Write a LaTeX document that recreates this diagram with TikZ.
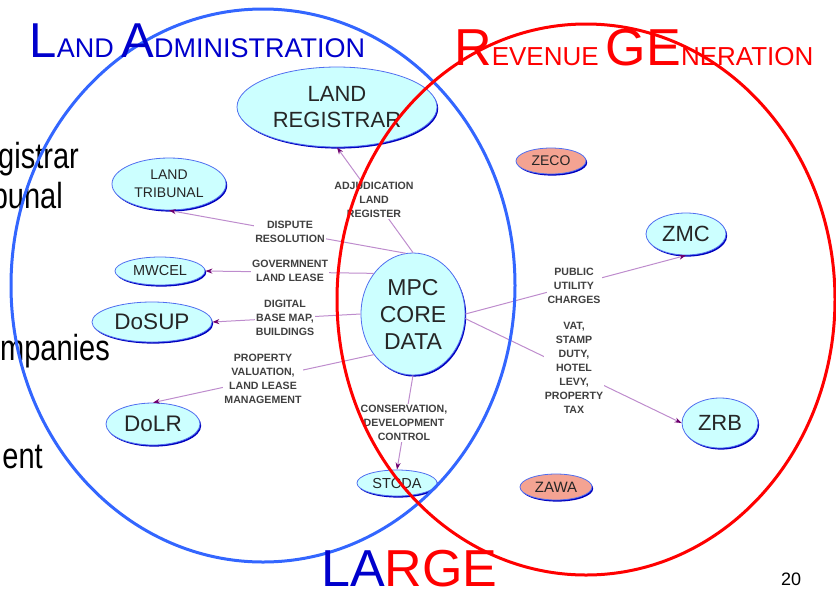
\documentclass[tikz,border=0pt]{standalone}
\usepackage{fontspec}
\setmainfont{Liberation Sans}
\usetikzlibrary{arrows.meta,shapes.geometric,shadows}

\definecolor{bubblefill}{RGB}{204,255,255}
\definecolor{bubbleline}{RGB}{80,110,240}
\definecolor{bubbleshade}{RGB}{0,0,190}
\definecolor{agencyfill}{RGB}{244,163,146}
\definecolor{linkline}{RGB}{190,140,205}
\definecolor{linktip}{RGB}{110,0,110}
\definecolor{ringblue}{RGB}{51,102,255}
\definecolor{titleblue}{RGB}{0,0,204}

\newcommand{\fsz}[2]{\fontsize{#1}{#2}\selectfont}

\begin{document}
\begin{tikzpicture}[x=1pt,y=-1pt,
  bubble/.style={ellipse, draw=bubbleline, line width=0.8pt, fill=bubblefill, inner sep=0pt, align=center, text=black!85,
    drop shadow={shadow xshift=1.2pt, shadow yshift=-1.6pt, fill=bubbleshade, opacity=1}},
  agency/.style={bubble, fill=agencyfill},
  link/.style={draw=linkline, line width=1pt, -{Stealth[length=7pt,width=5pt,color=linktip]}},
  tag/.style={fill=white, inner sep=1pt, align=center, text=black!75, font=\fsz{10.6}{14}\bfseries},
  ring/.style={line width=3pt},
  fragment/.style={anchor=base east, inner sep=0pt, font=\fsz{29}{29}}]

\useasboundingbox (0,0) rectangle (836,590);

\node[fragment] (frag1) at (79,168) {\scalebox{1}[1.25]{gistrar}};
\node[fragment] (frag2) at (63,208) {\scalebox{1}[1.25]{bunal}};
\node[fragment] (frag3) at (110,360) {\scalebox{1}[1.25]{mpanies}};
\node[fragment] (frag4) at (43,468) {\scalebox{1}[1.25]{ent}};

\node[bubble, minimum width=200pt, minimum height=80pt, font=\fsz{22}{26}] (reg) at (337,107) {LAND\\REGISTRAR};
\node[bubble, minimum width=114pt, minimum height=52pt, font=\fsz{14}{18}] (trib) at (169,184) {LAND\\TRIBUNAL};
\node[bubble, minimum width=90pt, minimum height=28pt, font=\fsz{14.5}{15}] (mwcel) at (160,271) {MWCEL};
\node[bubble, minimum width=120pt, minimum height=40pt, font=\fsz{22.5}{23}] (dosup) at (152,322) {DoSUP};
\node[bubble, minimum width=94pt, minimum height=42pt, font=\fsz{22.5}{23}] (dolr) at (153,424) {DoLR};
\node[bubble, minimum width=80pt, minimum height=26pt, font=\fsz{14.5}{15}] (stcda) at (397,483) {STCDA};
\node[bubble, minimum width=104pt, minimum height=122pt, font=\fsz{23}{27}] (mpc) at (413,314) {MPC\\CORE\\DATA};
\node[agency, minimum width=70pt, minimum height=26pt, font=\fsz{14}{15}] (zeco) at (551,161) {ZECO};
\node[agency, minimum width=72pt, minimum height=26pt, font=\fsz{15}{15}] (zawa) at (556,487) {ZAWA};
\node[bubble, minimum width=80pt, minimum height=42pt, font=\fsz{22}{22}] (zmc) at (686,234) {ZMC};
\node[bubble, minimum width=76pt, minimum height=50pt, font=\fsz{22}{22}] (zrb) at (720,423) {ZRB};

\draw[link] (mpc.north) -- (reg.south);
\draw[link] (mpc.97) -- (trib.south);
\draw[link] (mpc.134) -- (mwcel.east);
\draw[link] (mpc.west) -- (dosup.east);
\draw[link] (mpc.-134) -- (dolr.north);
\draw[link] (mpc.south) -- (stcda.north);
\draw[link] (mpc.east) -- (zmc.south);
\draw[link] (mpc.-5) -- (zrb.west);

\node[tag] (adj) at (374,200) {ADJUDICATION\\LAND\\REGISTER};
\node[tag] (disp) at (290,231.5) {DISPUTE\\RESOLUTION};
\node[tag] (gov) at (290,271) {GOVERMNENT\\LAND LEASE};
\node[tag] (dig) at (285,318) {DIGITAL\\BASE MAP,\\BUILDINGS};
\node[tag] (prop) at (263,379) {PROPERTY\\VALUATION,\\LAND LEASE\\MANAGEMENT};
\node[tag] (cons) at (404,423) {CONSERVATION,\\DEVELOPMENT\\CONTROL};
\node[tag] (pub) at (574,286) {PUBLIC\\UTILITY\\CHARGES};
\node[tag] (vat) at (574,367.5) {VAT,\\STAMP\\DUTY,\\HOTEL\\LEVY,\\PROPERTY\\TAX};

\draw[ring, ringblue] (263,285.5) ellipse [x radius=252, y radius=276.5];
\draw[ring, red] (586,299.5) ellipse [x radius=249, y radius=275.5];

\node[anchor=base west, inner sep=0pt, text=titleblue] (admin) at (29.5,57) {\fsz{49}{49}L\fsz{27}{27}AND \fsz{49}{49}A\fsz{27}{27}DMINISTRATION};
\node[anchor=base west, inner sep=0pt, text=red] (revenue) at (454,65) {\fsz{52}{52}R\fsz{26}{26}EVENUE \fsz{52}{52}GE\fsz{26}{26}NERATION};
\node[anchor=base west, inner sep=0pt, text=titleblue] (large) at (321,586) {\fsz{52}{52}LA\textcolor{red}{RGE}};
\node[anchor=base west, inner sep=0pt] (page) at (781,585) {\fsz{18}{18}20};

\end{tikzpicture}
\end{document}
